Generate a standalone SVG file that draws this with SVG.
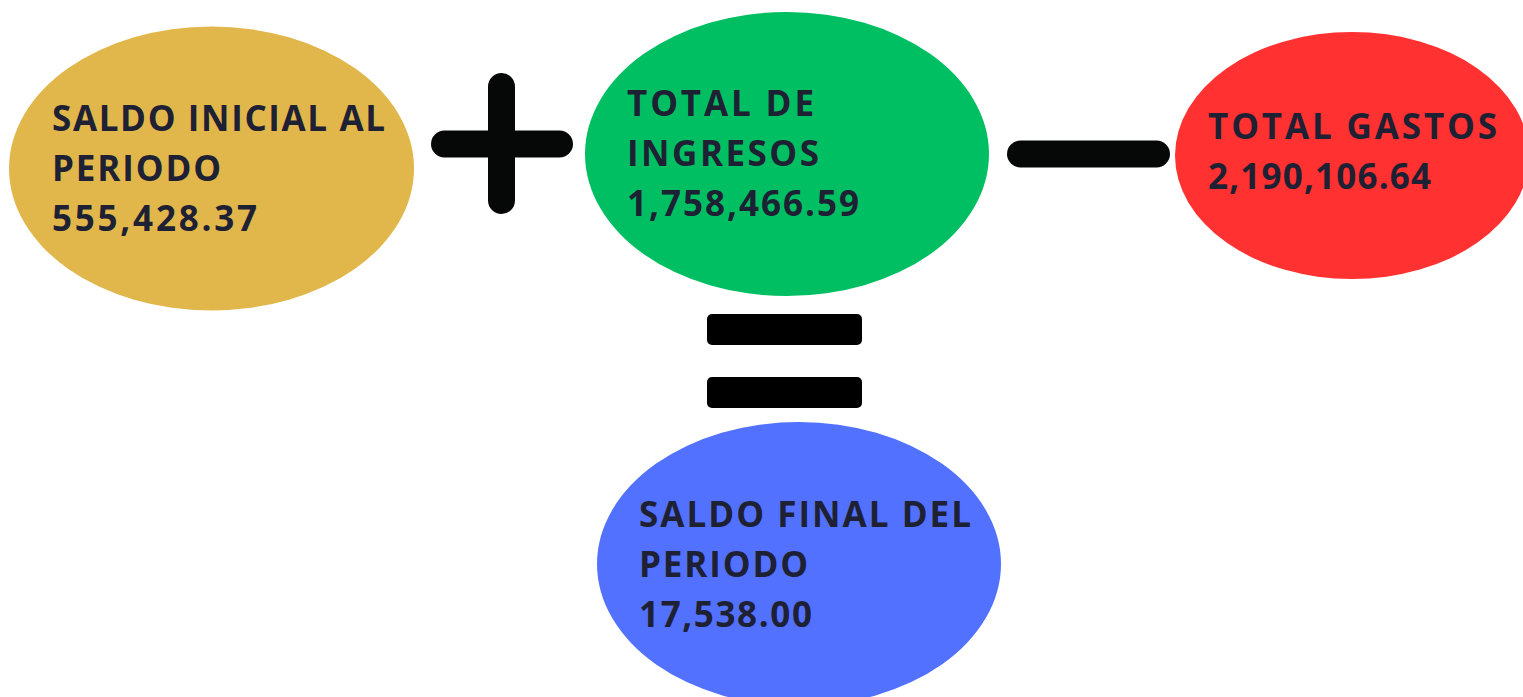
<svg xmlns="http://www.w3.org/2000/svg" width="1523" height="697" viewBox="0 0 1523 697">
<style>
.lbl{font-family:"Open Sans","Liberation Sans",sans-serif;font-weight:700;font-size:35px;fill:#1e2033}
.op{fill:#060807}
</style>
<rect width="1523" height="697" fill="#ffffff"/>
<g id="saldo-inicial">
<ellipse cx="211.5" cy="168.5" rx="202.5" ry="142" fill="#e1b74b"/>
<text class="lbl" x="52" y="131" textLength="333" lengthAdjust="spacing">SALDO INICIAL AL</text>
<text class="lbl" x="52" y="181" textLength="169" lengthAdjust="spacing">PERIODO</text>
<text class="lbl" x="52" y="231" textLength="205" lengthAdjust="spacing">555,428.37</text>
</g>
<g id="total-ingresos">
<ellipse cx="787" cy="154" rx="202" ry="142" fill="#00bf63"/>
<text class="lbl" x="627" y="116" textLength="187" lengthAdjust="spacing">TOTAL DE</text>
<text class="lbl" x="627" y="166" textLength="192" lengthAdjust="spacing">INGRESOS</text>
<text class="lbl" x="627" y="216" textLength="232" lengthAdjust="spacing">1,758,466.59</text>
</g>
<g id="total-gastos">
<ellipse cx="1352" cy="155.5" rx="177" ry="123.5" fill="#ff3131"/>
<text class="lbl" x="1208" y="139" textLength="289" lengthAdjust="spacing">TOTAL GASTOS</text>
<text class="lbl" x="1208" y="189" textLength="223" lengthAdjust="spacing">2,190,106.64</text>
</g>
<g id="saldo-final">
<ellipse cx="799" cy="564" rx="202" ry="142" fill="#5271ff"/>
<text class="lbl" x="639" y="527" textLength="332" lengthAdjust="spacing">SALDO FINAL DEL</text>
<text class="lbl" x="639" y="577" textLength="169" lengthAdjust="spacing">PERIODO</text>
<text class="lbl" x="639" y="627" textLength="173" lengthAdjust="spacing">17,538.00</text>
</g>
<g id="connectors">
<g id="plus">
<rect class="op" x="431" y="130.5" width="142" height="27" rx="13.5"/>
<rect class="op" x="488" y="73" width="27" height="141" rx="13.5"/>
</g>
<rect id="minus" class="op" x="1007" y="140.5" width="163" height="27" rx="13.5"/>
<g id="equals">
<rect x="707" y="314" width="155" height="31" rx="5" fill="#000"/>
<rect x="707" y="377" width="155" height="31" rx="5" fill="#000"/>
</g>
</g>
</svg>
